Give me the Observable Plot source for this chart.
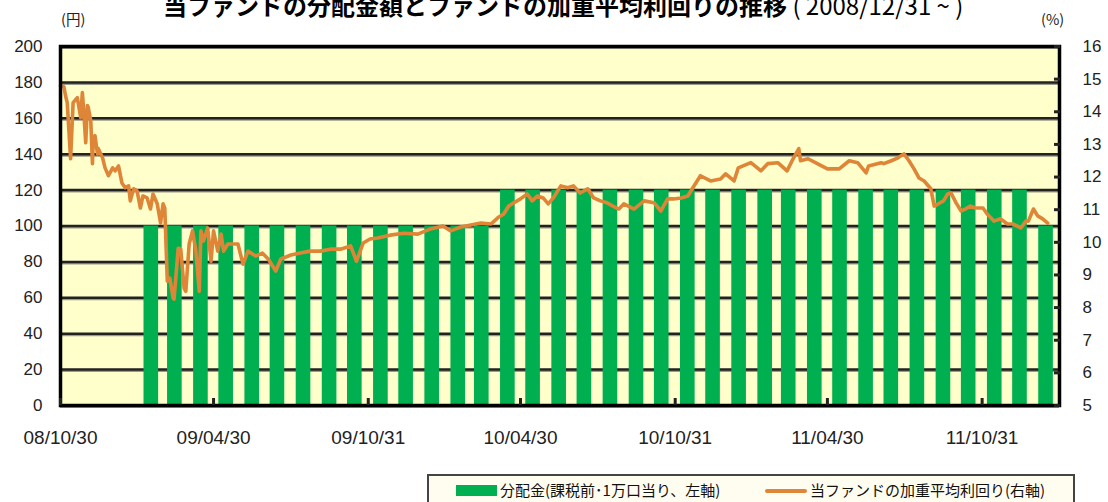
<!DOCTYPE html>
<html>
<head>
<meta charset="utf-8">
<script src="https://cdn.jsdelivr.net/npm/d3@7"></script>
<script src="https://cdn.jsdelivr.net/npm/@observablehq/plot@0.6"></script>
<style>
  html, body { margin: 0; padding: 0; background: #fff; }
  #wrap { position: relative; width: 1108px; height: 502px; overflow: hidden; background: #fff; }
  #chart { position: absolute; left: 0; top: 0; }
  #title { position: absolute; left: 163px; top: -9px; white-space: nowrap; font-family: "Noto Sans CJK JP", sans-serif; font-size: 24px; line-height: 28px; color: #000; }
  #title b { font-weight: 700; }
  #title span { font-weight: 400; }
  .unit { position: absolute; top: 8px; font-family: "Noto Sans CJK JP", sans-serif; font-size: 14.5px; color: #222; }
  #legend { position: absolute; left: 427px; top: 474px; width: 648px; height: 40px; border: 2px solid #444; background: #FFFDF0; box-sizing: border-box; font-family: "Noto Sans CJK JP", sans-serif; font-size: 15px; color: #111; }
  #legend .item { position: absolute; top: 4px; line-height: 20px; white-space: nowrap; }
  #legend .sw1 { position: absolute; top: 9px; width: 41px; height: 11px; background: #00B050; }
  #legend .sw2 { position: absolute; top: 13px; width: 42px; height: 4px; background: #DE8537; border-radius: 2px; }
</style>
</head>
<body>
<div id="wrap">
  <div id="chart"></div>
  <div id="title"><b>当ファンドの分配金額とファンドの加重平均利回りの推移</b><span> ( 2008/12/31 ~ )</span></div>
  <div class="unit" style="left:61px">(円)</div>
  <div class="unit" style="left:1041px">(%)</div>
  <div id="legend">
    <div class="sw1" style="left:27px"></div>
    <div class="item" style="left:71px">分配金(課税前･1万口当り、左軸)</div>
    <div class="sw2" style="left:336px"></div>
    <div class="item" style="left:381px">当ファンドの加重平均利回り(右軸)</div>
  </div>
</div>
<script>
// ---- data ----
const leftTicks = [0, 20, 40, 60, 80, 100, 120, 140, 160, 180, 200];
const rightTicks = [5, 6, 7, 8, 9, 10, 11, 12, 13, 14, 15, 16];
const xTickDates = ["2008-10-30", "2009-04-30", "2009-10-31", "2010-04-30", "2010-10-31", "2011-04-30", "2011-10-31"];
const xTickLabels = ["08/10/30", "09/04/30", "09/10/31", "10/04/30", "10/10/31", "11/04/30", "11/10/31"];

// monthly distributions (yen per 10,000 units, before tax)
const barDates = [
  "2009-02-15","2009-03-15","2009-04-15","2009-05-15","2009-06-15","2009-07-15","2009-08-15","2009-09-15",
  "2009-10-15","2009-11-15","2009-12-15","2010-01-15","2010-02-15","2010-03-15","2010-04-15","2010-05-15",
  "2010-06-15","2010-07-15","2010-08-15","2010-09-15","2010-10-15","2010-11-15","2010-12-15","2011-01-15",
  "2011-02-15","2011-03-15","2011-04-15","2011-05-15","2011-06-15","2011-07-15","2011-08-15","2011-09-15",
  "2011-10-15","2011-11-15","2011-12-15","2012-01-15"
];
const barValues = [
  100,100,100,100,100,100,100,100,
  100,100,100,100,100,100,120,120,
  120,120,120,120,120,120,120,120,
  120,120,120,120,120,120,120,120,
  120,120,120,100
];

// weighted average yield of the fund (%)
const lineDates = [
  "2008-10-30","2008-11-03","2008-11-05","2008-11-07","2008-11-11","2008-11-14","2008-11-19","2008-11-23","2008-11-25","2008-11-26",
  "2008-11-29","2008-12-01","2008-12-02","2008-12-05","2008-12-07","2008-12-08","2008-12-10","2008-12-13","2008-12-14","2008-12-19",
  "2008-12-22","2008-12-26","2008-12-31","2009-01-03","2009-01-07","2009-01-11","2009-01-15","2009-01-19","2009-01-21","2009-01-25",
  "2009-01-29","2009-02-02","2009-02-05","2009-02-10","2009-02-14","2009-02-17","2009-02-22","2009-02-26","2009-03-01","2009-03-03",
  "2009-03-06","2009-03-09","2009-03-13","2009-03-14","2009-03-19","2009-03-22","2009-03-26","2009-03-28","2009-04-01","2009-04-05",
  "2009-04-09","2009-04-13","2009-04-15","2009-04-18","2009-04-23","2009-04-27","2009-04-30","2009-05-05","2009-05-09","2009-05-12",
  "2009-05-17","2009-05-23","2009-05-29","2009-06-04","2009-06-10","2009-06-19","2009-06-27","2009-07-04","2009-07-13","2009-07-19",
  "2009-07-31","2009-08-11","2009-08-23","2009-09-04","2009-09-16","2009-09-28","2009-10-10","2009-10-17","2009-10-25","2009-11-02",
  "2009-11-11","2009-11-26","2009-12-12","2009-12-29","2010-01-13","2010-01-28","2010-02-06","2010-02-18","2010-03-02","2010-03-14",
  "2010-03-26","2010-04-03","2010-04-10","2010-04-16","2010-04-22","2010-04-30","2010-05-08","2010-05-14","2010-05-20","2010-05-27",
  "2010-06-02","2010-06-08","2010-06-17","2010-06-25","2010-07-02","2010-07-10","2010-07-19","2010-07-26","2010-08-03","2010-08-11",
  "2010-08-18","2010-08-25","2010-08-31","2010-09-12","2010-09-24","2010-10-06","2010-10-14","2010-10-22","2010-10-29","2010-11-07",
  "2010-11-15","2010-11-21","2010-11-30","2010-12-12","2010-12-24","2010-12-30","2011-01-09","2011-01-14","2011-01-29","2011-02-10",
  "2011-02-18","2011-03-02","2011-03-13","2011-03-19","2011-03-27","2011-03-29","2011-04-07","2011-04-18","2011-04-30","2011-05-14",
  "2011-05-26","2011-06-05","2011-06-15","2011-06-18","2011-07-03","2011-07-06","2011-07-15","2011-07-23","2011-07-30","2011-08-05",
  "2011-08-11","2011-08-17","2011-08-23","2011-08-31","2011-09-04","2011-09-09","2011-09-15","2011-09-20","2011-09-24","2011-09-30",
  "2011-10-06","2011-10-11","2011-10-17","2011-10-23","2011-11-01","2011-11-06","2011-11-14","2011-11-22","2011-11-30","2011-12-07",
  "2011-12-16","2011-12-22","2011-12-25","2011-12-31","2012-01-05","2012-01-11","2012-01-17"
];
const lineYields = [
  14.80,14.77,14.49,14.28,12.56,14.28,14.43,13.82,14.59,14.25,
  13.05,14.19,14.13,13.73,12.41,13.20,13.27,12.71,12.87,12.59,
  12.28,12.04,12.28,12.19,12.34,11.82,11.67,11.73,11.27,11.64,
  11.58,11.05,11.42,11.36,11.02,11.48,11.18,10.59,11.18,11.05,
  8.81,8.90,8.29,8.26,9.82,9.79,8.59,8.50,9.95,10.35,
  9.73,8.50,10.35,10.04,10.44,9.42,10.35,9.73,10.25,9.73,
  9.95,9.95,9.95,9.33,9.73,9.58,9.67,9.49,9.12,9.49,
  9.61,9.67,9.73,9.73,9.79,9.79,9.89,9.42,9.98,10.10,
  10.13,10.22,10.28,10.25,10.41,10.50,10.35,10.47,10.53,10.59,
  10.56,10.75,10.87,11.11,11.21,11.33,11.48,11.27,11.42,11.36,
  11.18,11.36,11.73,11.67,11.73,11.51,11.64,11.36,11.27,11.21,
  11.11,11.02,11.18,11.02,11.27,11.21,10.96,11.33,11.33,11.36,
  11.42,11.67,12.04,11.88,11.94,12.10,11.88,12.28,12.44,12.19,
  12.41,12.44,12.19,12.50,12.87,12.50,12.56,12.41,12.25,12.25,
  12.50,12.44,12.13,12.34,12.44,12.41,12.50,12.59,12.71,12.50,
  12.25,11.97,11.88,11.64,11.11,11.18,11.27,11.48,11.51,11.21,
  10.96,11.02,11.11,11.05,11.05,10.87,10.65,10.72,10.56,10.56,
  10.44,10.65,10.65,11.02,10.81,10.72,10.59
];

// ---- build ----
const rightMin = 5, rightMax = 16, leftMax = 200;
const toLeft = v => (v - rightMin) * leftMax / (rightMax - rightMin);
const fromLeft = v => Math.round(v * (rightMax - rightMin) / leftMax + rightMin);
const bars = barDates.map((d, i) => ({date: new Date(d), value: barValues[i]}));
const line = lineDates.map((d, i) => ({date: new Date(d), yld: lineYields[i]}));
const xTicks = xTickDates.map(d => new Date(d));
const halfBar = 8.7 * 864e5;

const chart = Plot.plot({
  width: 1108,
  height: 502,
  marginLeft: 60,
  marginRight: 49,
  marginTop: 46,
  marginBottom: 97,
  style: {background: "transparent", fontFamily: "'Liberation Sans', Arial, sans-serif", fontSize: "17px", color: "#222"},
  x: {type: "utc", domain: [new Date("2008-10-30"), new Date("2012-01-31")], label: null},
  y: {domain: [0, leftMax], label: null},
  marks: [
    Plot.frame({fill: "#FFFFCC"}),
    Plot.ruleY(leftTicks, {stroke: "#9a9a8a", strokeWidth: 2, dy: 1.5}),
    Plot.ruleY(leftTicks, {stroke: "#222", strokeWidth: 2.5}),
    Plot.rectY(bars, {x1: d => new Date(+d.date - halfBar), x2: d => new Date(+d.date + halfBar), y: "value", fill: "#00B050"}),
    Plot.line(line, {x: "date", y: d => toLeft(d.yld), stroke: "#DE8537", strokeWidth: 3.6, strokeLinejoin: "round"}),
    Plot.frame({stroke: "#000", strokeWidth: 3.5}),
    Plot.axisY(leftTicks, {anchor: "left", label: null, tickSize: 0, tickPadding: 18, fontSize: 17}),
    Plot.axisY(rightTicks.map(toLeft), {anchor: "right", label: null, tickSize: -6, strokeWidth: 3, tickFormat: () => ""}),
    Plot.axisY(rightTicks.map(toLeft), {anchor: "right", label: null, tickSize: 0, tickPadding: 23, fontSize: 17, tickFormat: fromLeft}),
    Plot.axisX(xTicks, {anchor: "bottom", label: null, tickSize: -7, strokeWidth: 3, tickFormat: () => ""}),
    Plot.axisX(xTicks, {anchor: "bottom", label: null, tickSize: 0, tickPadding: 25, fontSize: 19,
      fontFamily: "'Liberation Sans Narrow', 'Liberation Sans', sans-serif",
      tickFormat: d => xTickLabels[xTicks.findIndex(t => +t === +d)]})
  ]
});
document.getElementById("chart").appendChild(chart);
</script>
</body>
</html>
